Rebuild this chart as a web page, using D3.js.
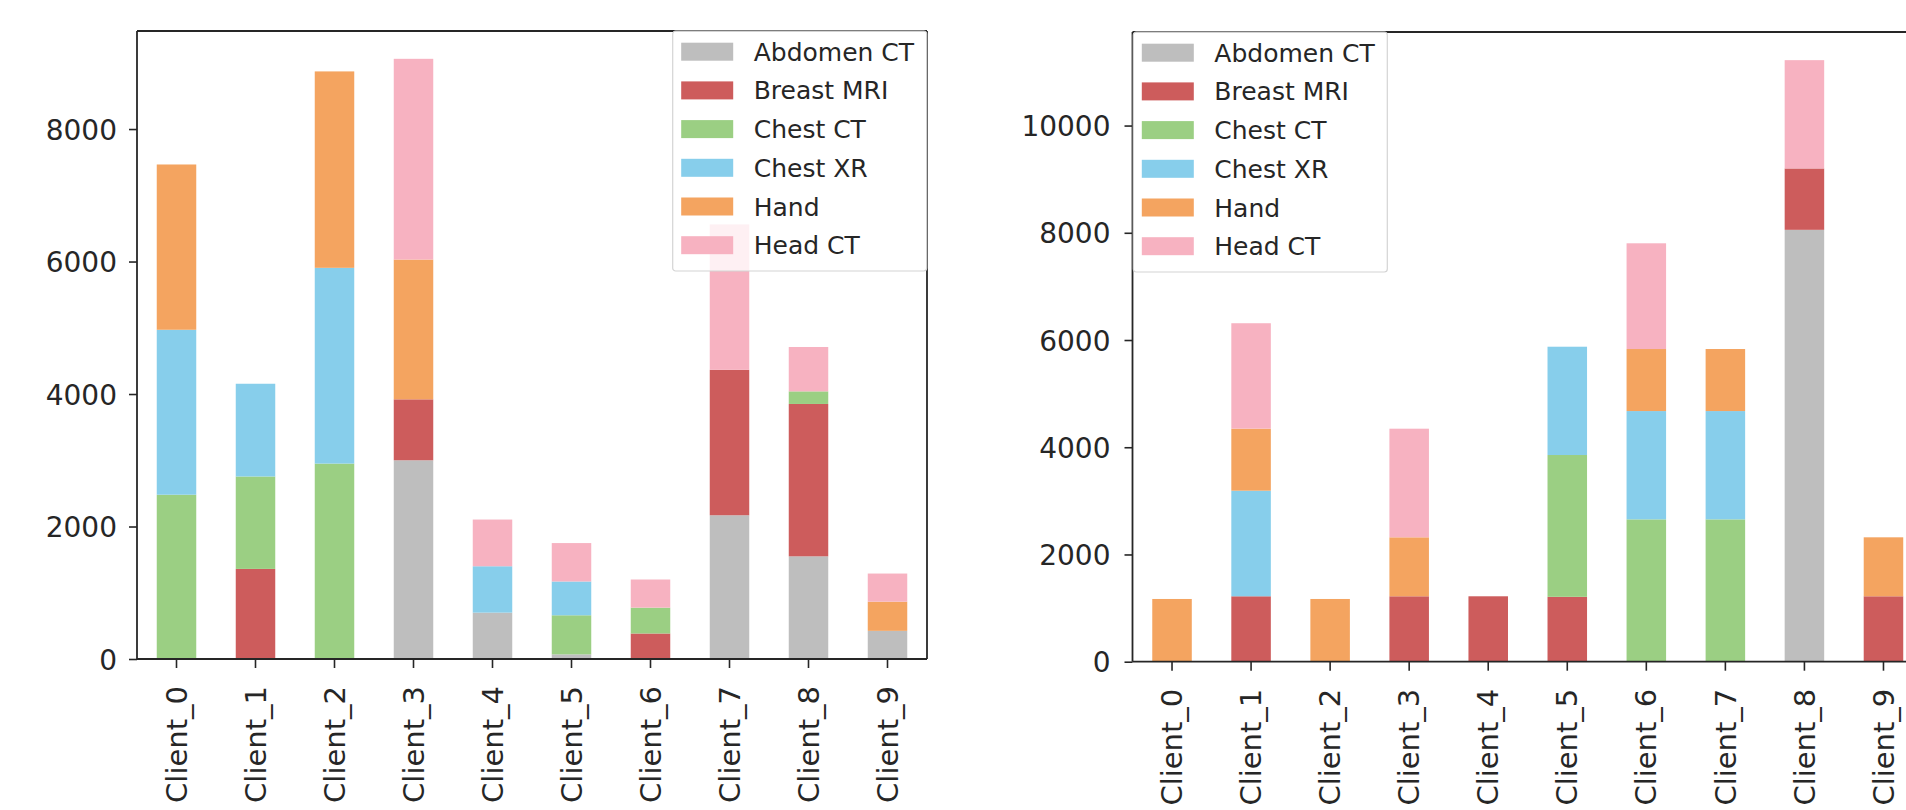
<!DOCTYPE html>
<html>
<head>
<meta charset="utf-8">
<script src="https://cdn.jsdelivr.net/npm/d3@7"></script>
<style>
  html, body { margin: 0; padding: 0; background: #ffffff; overflow: hidden; }
  svg { display: block; }
  text { font-family: "DejaVu Sans", sans-serif; }
</style>
</head>
<body>
<svg id="chart" width="1906" height="810"></svg>
<script>
// ---------- data ----------
const categories = ["Client_0","Client_1","Client_2","Client_3","Client_4","Client_5","Client_6","Client_7","Client_8","Client_9"];
const modalities = ["Abdomen CT","Breast MRI","Chest CT","Chest XR","Hand","Head CT"];
const modalityColors = ["#bebebe","#cd5c5c","#9bcf83","#87ceeb","#f4a460","#f7b2c1"];

// left panel values (per modality, per client)
const leftAbdomenCT = [0, 0, 0, 3000, 700, 70, 0, 2170, 1550, 425];
const leftBreastMRI = [0, 1360, 0, 920, 0, 0, 385, 2195, 2300, 0];
const leftChestCT   = [2480, 1395, 2950, 0, 0, 590, 390, 0, 190, 0];
const leftChestXR   = [2490, 1400, 2955, 0, 700, 510, 0, 0, 0, 0];
const leftHand      = [2495, 0, 2965, 2110, 0, 0, 0, 0, 0, 440];
const leftHeadCT    = [0, 0, 0, 3030, 705, 580, 425, 2195, 670, 425];

// right panel values
const rightAbdomenCT = [0, 0, 0, 0, 0, 0, 0, 0, 8055, 0];
const rightBreastMRI = [0, 1220, 0, 1220, 1220, 1210, 0, 0, 1145, 1220];
const rightChestCT   = [0, 0, 0, 0, 0, 2645, 2655, 2655, 0, 0];
const rightChestXR   = [0, 1970, 0, 0, 0, 2020, 2020, 2020, 0, 0];
const rightHand      = [1170, 1157, 1170, 1100, 0, 0, 1157, 1157, 0, 1100];
const rightHeadCT    = [0, 1966, 0, 2026, 0, 0, 1972, 0, 2020, 0];

const leftTicks = [0, 2000, 4000, 6000, 8000];
const rightTicks = [0, 2000, 4000, 6000, 8000, 10000];

// ---------- helpers ----------
function buildRows(series) {
  return categories.map((c, i) => {
    const row = { client: c };
    modalities.forEach((m, k) => { row[m] = series[k][i]; });
    return row;
  });
}

const svg = d3.select("#chart");
const color = d3.scaleOrdinal().domain(modalities).range(modalityColors);

function drawPanel(cfg) {
  const g = svg.append("g");
  const x = d3.scaleBand().domain(categories)
    .range([cfg.left, cfg.right]).paddingInner(0.5).paddingOuter(0.25);
  const y = d3.scaleLinear().domain([0, cfg.yMax]).range([cfg.bottom, cfg.top]);

  const rows = buildRows(cfg.series);
  const stacked = d3.stack().keys(modalities)(rows);

  // bars
  g.append("g").selectAll("g").data(stacked).join("g")
    .attr("fill", d => color(d.key))
    .selectAll("rect").data(d => d).join("rect")
    .attr("x", d => x(d.data.client))
    .attr("width", x.bandwidth())
    .attr("y", d => y(d[1]))
    .attr("height", d => Math.max(0, y(d[0]) - y(d[1])));

  // y axis
  const yAxis = d3.axisLeft(y).tickValues(cfg.ticks).tickSize(8).tickPadding(cfg.yPad).tickFormat(d3.format("d"));
  const ya = g.append("g").attr("transform", `translate(${cfg.left},0)`).call(yAxis);
  ya.select(".domain").remove();
  ya.selectAll(".tick line").attr("stroke", "#262626").attr("stroke-width", 1.6);
  ya.selectAll(".tick text").attr("fill", "#262626").style("font-size", "28px")
    .style("font-family", "DejaVu Sans, sans-serif").attr("dy", "0.36em");

  // x axis
  const xAxis = d3.axisBottom(x).tickSize(9).tickSizeOuter(0);
  const xa = g.append("g").attr("transform", `translate(0,${cfg.bottom})`).call(xAxis);
  xa.select(".domain").remove();
  xa.selectAll(".tick line").attr("stroke", "#262626").attr("stroke-width", 1.6);
  xa.selectAll(".tick text")
    .attr("fill", "#262626").style("font-size", "29px")
    .style("font-family", "DejaVu Sans, sans-serif")
    .attr("text-anchor", "end")
    .attr("x", 0).attr("y", 0)
    .attr("dy", "0.35em")
    .attr("transform", "translate(0,27) rotate(-90)");

  // spines
  const sp = g.append("g").attr("stroke", "#262626").attr("stroke-width", 1.8).attr("fill", "none");
  sp.append("line").attr("x1", cfg.left).attr("x2", cfg.left).attr("y1", cfg.top).attr("y2", cfg.bottom);
  sp.append("line").attr("x1", cfg.left).attr("x2", cfg.right).attr("y1", cfg.bottom).attr("y2", cfg.bottom);
  sp.append("line").attr("x1", cfg.left).attr("x2", cfg.right).attr("y1", cfg.top).attr("y2", cfg.top);
  sp.append("line").attr("x1", cfg.right).attr("x2", cfg.right).attr("y1", cfg.top).attr("y2", cfg.bottom);

  // legend
  const lg = g.append("g").attr("transform", `translate(${cfg.legendX},${cfg.legendY})`);
  lg.append("rect").attr("x", 0).attr("y", 0).attr("width", 254).attr("height", 240)
    .attr("rx", 3).attr("fill", "#ffffff").attr("fill-opacity", 0.8)
    .attr("stroke", "#d4d4d4").attr("stroke-width", 1.2);
  const items = lg.selectAll("g.item").data(modalities).join("g").attr("class", "item")
    .attr("transform", (d, i) => `translate(0,${20.7 + i * 38.7})`);
  items.append("rect").attr("x", 8.5).attr("y", -9).attr("width", 52).attr("height", 18)
    .attr("fill", d => color(d));
  items.append("text").attr("x", 81).attr("y", 0).attr("dy", "0.36em")
    .attr("fill", "#262626").style("font-size", "25px").text(d => d);
}

drawPanel({
  left: 137, right: 927, top: 31, bottom: 659, yMax: 9480, ticks: leftTicks, yPad: 12,
  series: [leftAbdomenCT, leftBreastMRI, leftChestCT, leftChestXR, leftHand, leftHeadCT],
  legendX: 672.7, legendY: 31
});

drawPanel({
  left: 1132.5, right: 1923, top: 32, bottom: 661.7, yMax: 11745, ticks: rightTicks, yPad: 14,
  series: [rightAbdomenCT, rightBreastMRI, rightChestCT, rightChestXR, rightHand, rightHeadCT],
  legendX: 1133.3, legendY: 32
});
</script>
</body>
</html>
